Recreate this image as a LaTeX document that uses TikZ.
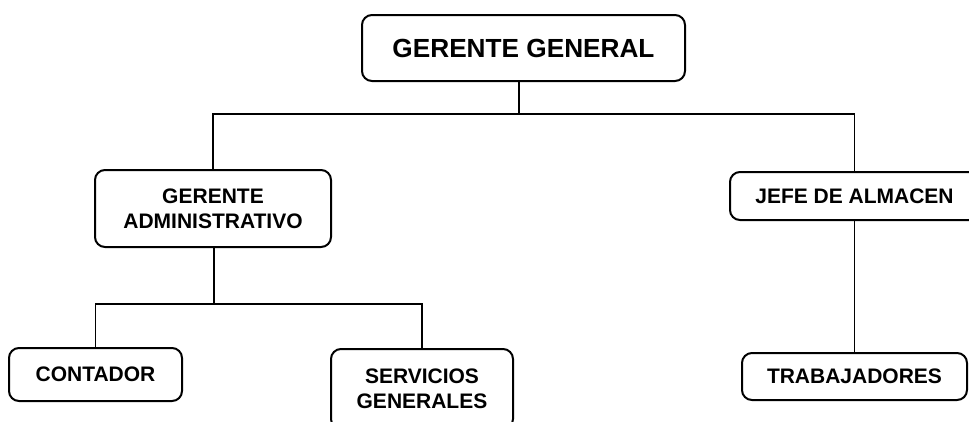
\documentclass[tikz,border=0pt]{standalone}
\usepackage{fontspec}
\setmainfont{Liberation Sans}
\usepackage{xcolor}
\usepackage{tikz}
\usetikzlibrary{positioning}
\tikzset{
  org-box/.style={draw=black,line width=2pt,rounded corners=10pt,
    align=center,inner sep=0pt,font=\fontsize{21}{25}\selectfont\bfseries},
  org-top/.style={org-box,font=\fontsize{26.2}{30}\selectfont\bfseries},
  org-line/.style={draw=black,line width=1.5pt},
}

\begin{document}
\begin{tikzpicture}[x=1pt,y=-1pt]
  \clip (0,0) rectangle (969,421);
  \useasboundingbox (0,0) rectangle (969,421);

  % niveles
  \node[org-top,minimum width=323pt,minimum height=66pt] (gg) at (523.5,48) {GERENTE GENERAL};
  \node[org-box,minimum width=236pt,minimum height=77pt] (ga) at (213,208.5) {GERENTE\\ADMINISTRATIVO};
  \node[org-box,minimum width=249pt,minimum height=48pt] (ja) at (854.5,196) {JEFE DE ALMACEN};
  \node[org-box,minimum width=173pt,minimum height=53pt] (cont) at (95.5,374.5) {CONTADOR};
  \node[org-box,minimum width=182pt,minimum height=80pt] (serv) at (422,389) {SERVICIOS\\GENERALES};
  \node[org-box,minimum width=225pt,minimum height=47pt] (trab) at (854.5,376.5) {TRABAJADORES};

  % conectores
  \coordinate (bus1) at (519,114);
  \coordinate (bus2) at (214,304);
  \draw[org-line] (bus1 |- gg.south) -- (bus1);
  \draw[org-line] (ga.north) |- (bus1) -| (ja.north);
  \draw[org-line] (bus2 |- ga.south) -- (bus2);
  \draw[org-line] (cont.north) |- (bus2) -| (serv.north);
  \draw[org-line] (ja.south) -- (trab.north);
\end{tikzpicture}
\end{document}
